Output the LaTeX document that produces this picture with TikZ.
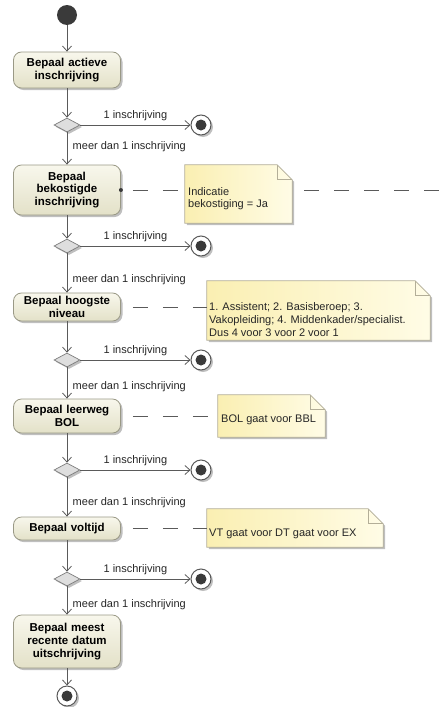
\documentclass[tikz,border=0pt]{standalone}
\usepackage{fontspec}
\setmainfont{Liberation Sans}
\usetikzlibrary{arrows.meta,shapes.geometric,shadows}
\definecolor{lin}{HTML}{5A5A5A}
\definecolor{dark}{HTML}{3A3A3A}
\definecolor{actTop}{HTML}{F8F7EC}
\definecolor{actBot}{HTML}{E3E1C8}
\definecolor{actBorder}{HTML}{9A9986}
\definecolor{noteA}{HTML}{FFFCE6}
\definecolor{noteB}{HTML}{FAEFB2}
\definecolor{noteBorder}{HTML}{B3AE98}
\definecolor{decFill}{HTML}{DEDEDE}
\tikzset{
  shad/.style={drop shadow={shadow xshift=2pt,shadow yshift=-2pt,opacity=0.25,fill=black}},
  act/.style={draw=actBorder, line width=0.8pt, rounded corners=8pt, top color=actTop, bottom color=actBot,
    minimum width=107pt, text width=100pt, align=center, inner sep=0pt,
    font=\bfseries\fontsize{11.5}{12.8}\selectfont, shad},
  dec/.style={diamond, draw=lin!80, line width=0.7pt, fill=decFill, minimum width=26pt, minimum height=14pt, inner sep=0pt, shad},
  startn/.style={circle, fill=dark, minimum size=20pt, inner sep=0pt},
  final/.style={circle, draw=lin, line width=1pt, fill=white, minimum size=20pt, inner sep=0pt, shad,
    path picture={\fill[dark] (path picture bounding box.center) circle (5.5pt);}},
  flow/.style={draw=lin, line width=0.8pt, -{Straight Barb[length=5pt,width=9pt]}},
  lbl/.style={font=\fontsize{11}{13}\selectfont, text=black!85},
  notebox/.style={rectangle, inner sep=0pt},
  noteshape/.style={draw=noteBorder, line width=0.7pt, left color=noteB, right color=noteA, shad},
  notetext/.style={anchor=west, align=left, inner sep=0pt, font=\fontsize{11}{12.6}\selectfont, text=black!85},
  anno/.style={draw=lin, line width=0.8pt, dash pattern=on 15pt off 15pt, dash phase=18pt}
}
\begin{document}
\begin{tikzpicture}[x=1pt,y=-1pt]
\useasboundingbox[fill=white] (0,0) rectangle (443,707);

% activity nodes
\node[startn] (s) at (67,15) {};
\node[act, minimum height=36pt] (a1) at (67,70) {Bepaal actieve\\inschrijving};
\node[dec] (d1) at (67,125) {};
\node[final] (e1) at (201,125) {};
\node[act, minimum height=50pt] (a2) at (67,190) {Bepaal\\bekostigde\\inschrijving};
\node[dec] (d2) at (67,246) {};
\node[final] (e2) at (201,246) {};
\node[act, minimum height=28pt] (a3) at (67,307) {Bepaal hoogste\\niveau};
\node[dec] (d3) at (67,360) {};
\node[final] (e3) at (201,360) {};
\node[act, minimum height=34pt] (a4) at (67,416) {Bepaal leerweg\\BOL};
\node[dec] (d4) at (67,470) {};
\node[final] (e4) at (201,470) {};
\node[act, minimum height=23pt] (a5) at (67,528.5) {Bepaal voltijd};
\node[dec] (d5) at (67,579) {};
\node[final] (e5) at (201,579) {};
\node[act, minimum height=53pt] (a6) at (67,641.5) {Bepaal meest\\recente datum\\uitschrijving};
\node[final] (e6) at (67,696) {};

% notes
\node[notebox, minimum width=107pt, minimum height=58pt] (n1) at (238.5,194) {};
\node[notebox, minimum width=223pt, minimum height=59pt] (n2) at (318.5,310.5) {};
\node[notebox, minimum width=107pt, minimum height=42pt] (n3) at (271.5,416) {};
\node[notebox, minimum width=176pt, minimum height=38pt] (n4) at (295,528) {};
\foreach \n in {n1,n2,n3,n4}{
  \draw[noteshape] (\n.north west) -- ([xshift=-15pt]\n.north east) -- ([yshift=-15pt]\n.north east)
     -- (\n.south east) -- (\n.south west) -- cycle;
  \draw[draw=noteBorder, line width=0.7pt] ([xshift=-15pt]\n.north east) |- ([yshift=-15pt]\n.north east);
}
\node[notetext] (t1) at (188,198.5) {Indicatie\\bekostiging = Ja};
\node[notetext] (t2) at (209,319.5) {1. Assistent; 2. Basisberoep; 3.\\Vakopleiding; 4. Middenkader/specialist.\\Dus 4 voor 3 voor 2 voor 1};
\node[notetext] (t3) at (221,420) {BOL gaat voor BBL};
\node[notetext] (t4) at (209,534) {VT gaat voor DT gaat voor EX};

% annotation links
\coordinate (r1) at (443,190);
\draw[anno] (a2.east) -- (n1.west |- a2.east);
\draw[anno] (n1.east |- a2.east) -- (r1);
\fill[dark] (a2.east) circle (2pt);
\draw[anno] (a3.east) -- (n2.west |- a3.east);
\draw[anno] (a4.east) -- (n3.west |- a4.east);
\draw[anno] (a5.east) -- (n4.west |- a5.east);

% control flow
\draw[flow] (s) -- (a1);
\draw[flow] (a1) -- (d1);
\draw[flow] (d1) -- node[lbl, above]{1 inschrijving} (e1);
\draw[flow] (d1) -- node[lbl, pos=0.45, anchor=west, xshift=2pt]{meer dan 1 inschrijving} (a2);
\draw[flow] (a2) -- (d2);
\draw[flow] (d2) -- node[lbl, above]{1 inschrijving} (e2);
\draw[flow] (d2) -- node[lbl, pos=0.68, anchor=west, xshift=2pt]{meer dan 1 inschrijving} (a3);
\draw[flow] (a3) -- (d3);
\draw[flow] (d3) -- node[lbl, above]{1 inschrijving} (e3);
\draw[flow] (d3) -- node[lbl, pos=0.62, anchor=west, xshift=2pt]{meer dan 1 inschrijving} (a4);
\draw[flow] (a4) -- (d4);
\draw[flow] (d4) -- node[lbl, above]{1 inschrijving} (e4);
\draw[flow] (d4) -- node[lbl, pos=0.65, anchor=west, xshift=2pt]{meer dan 1 inschrijving} (a5);
\draw[flow] (a5) -- (d5);
\draw[flow] (d5) -- node[lbl, above]{1 inschrijving} (e5);
\draw[flow] (d5) -- node[lbl, pos=0.65, anchor=west, xshift=2pt]{meer dan 1 inschrijving} (a6);
\draw[flow] (a6) -- (e6);
\end{tikzpicture}
\end{document}
